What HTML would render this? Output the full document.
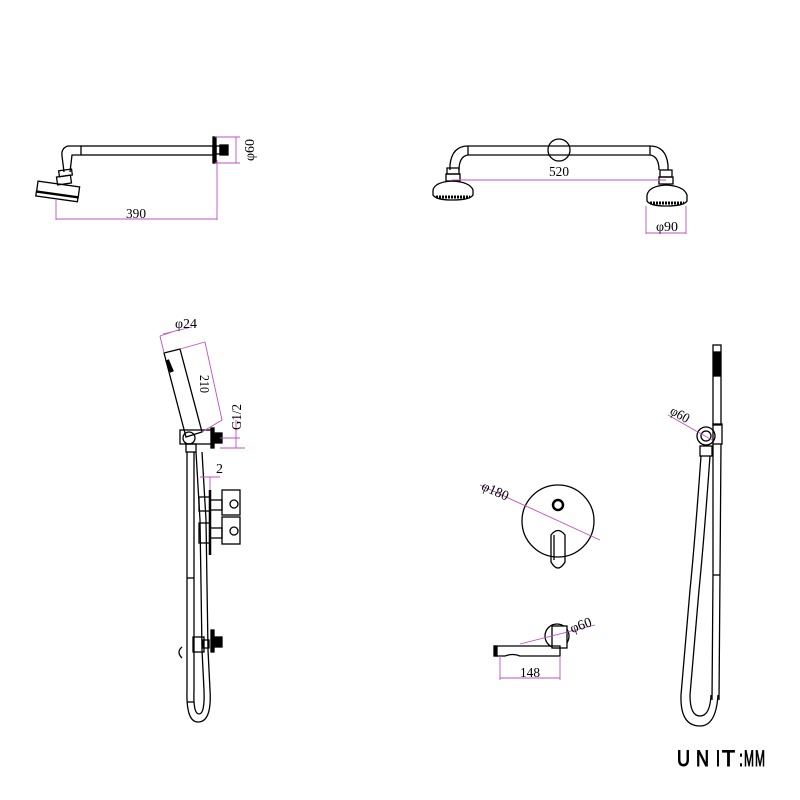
<!DOCTYPE html>
<html><head><meta charset="utf-8"><style>html,body{margin:0;padding:0;background:#fff}svg{display:block}</style></head>
<body>
<svg width="800" height="800" viewBox="0 0 800 800" xmlns="http://www.w3.org/2000/svg" font-family="Liberation Sans, sans-serif">
<g fill="none" stroke="#000" stroke-width="1.3">
<rect x="81" y="146" width="132" height="9"/>
<path d="M81 146 L68 146 Q61 148 62 156 L64 172 M81 155 L72 155 L70 172"/>
<rect x="59" y="170" width="13" height="6" transform="rotate(-8 65 173)"/>
<rect x="57" y="176" width="14" height="8" transform="rotate(-8 64 180)"/>
<rect x="37" y="184" width="42" height="11" transform="rotate(8 58 190)"/>
<rect x="36" y="194" width="42" height="5" transform="rotate(8 58 196)"/>
<rect x="213" y="137" width="3" height="26" fill="#000"/>
<rect x="216" y="146" width="4" height="8"/>
<rect x="220" y="145" width="8" height="10" fill="#000"/>
<path d="M468 146 L650 146 M468 155 L650 155"/>
<path d="M468 146 Q452 146 450 165 L450 170 M468 155 Q460 156 459 168 L459 170"/>
<path d="M650 146 Q666 146 668 165 L668 170 M650 155 Q658 156 659 168 L659 170"/>
<line x1="468" y1="146" x2="468" y2="155"/><line x1="650" y1="146" x2="650" y2="155"/>
<circle cx="559" cy="150" r="11" fill="#fff"/>
<line x1="548" y1="146" x2="570" y2="146"/><line x1="548" y1="155" x2="570" y2="155"/>
<rect x="447" y="168" width="12" height="6"/><rect x="446" y="174" width="14" height="7"/>
<path d="M433 190 Q435 182 452 181 Q470 182 473 190 L473 195 Q470 200 452 200 Q436 200 433 195 Z"/>
<line x1="436" y1="197" x2="470" y2="197" stroke-width="3" stroke-dasharray="2 1"/>
<rect x="660" y="170" width="12" height="7"/><rect x="659" y="177" width="14" height="7"/>
<path d="M647 195 Q649 186 666 185 Q684 186 687 195 L687 201 Q684 206 666 206 Q650 206 647 201 Z"/>
<line x1="650" y1="203" x2="684" y2="203" stroke-width="3" stroke-dasharray="2 1"/>
<path d="M164 353 L180 349 L202 432 L186 437 Z"/>
<path d="M167 360 L172 372" stroke-width="4"/>
<rect x="180" y="430" width="32" height="14"/>
<circle cx="189" cy="438" r="6"/>
<rect x="211" y="428" width="3" height="20" fill="#000"/>
<rect x="214" y="433" width="8" height="10" fill="#000"/>
<rect x="186" y="444" width="10" height="8"/>
<path d="M187 452 L187 690 M194 452 L194 690"/>
<path d="M196 452 L200 520 L202 650 L204 690 M202 452 L206 520 L208 650 L210 690"/>
<path d="M187 690 Q186 722 198 722 Q212 722 210 690 M194 690 Q193 714 199 714 Q205 714 204 690"/>
<line x1="187" y1="578" x2="194" y2="578"/>
<line x1="187" y1="702" x2="194" y2="702"/>
<rect x="193" y="637" width="11" height="15"/>
<path d="M182 647 Q176 652 182 658"/>
<rect x="203" y="640" width="6" height="8"/>
<rect x="211" y="630" width="3" height="22" fill="#000"/>
<rect x="214" y="637" width="8" height="10" fill="#000"/>
<line x1="210" y1="490" x2="210" y2="555" stroke-width="2.5"/>
<rect x="199" y="497" width="11" height="14"/>
<rect x="210" y="500" width="12" height="10"/>
<rect x="222" y="490" width="18" height="25"/>
<circle cx="234" cy="504" r="4"/>
<rect x="199" y="523" width="11" height="20"/>
<rect x="210" y="528" width="12" height="10"/>
<rect x="222" y="517" width="18" height="27"/>
<circle cx="234" cy="531" r="4"/>
<circle cx="558" cy="521" r="36"/>
<circle cx="558" cy="505" r="5" stroke-width="2.5"/>
<path d="M551 535 Q558 526 565 535 L565 562 Q558 574 551 562 Z"/>
<line x1="554" y1="535" x2="554" y2="560"/>
<circle cx="557" cy="636" r="12"/>
<rect x="552" y="626" width="15" height="22" fill="#fff"/>
<path d="M495 646 L560 646 L560 656 L520 656 Q513 653 505 656 L495 656 Z"/>
<rect x="494" y="646" width="3" height="10" fill="#000"/>
<rect x="713" y="345" width="8" height="80"/>
<rect x="714" y="352" width="6" height="24" fill="#000"/>
<circle cx="706" cy="436" r="9"/>
<circle cx="706" cy="436" r="5"/>
<rect x="713" y="424" width="9" height="20"/>
<path d="M713 444 L713 575 L712 700 M721 444 L720 575 L719 700"/>
<line x1="713" y1="575" x2="720" y2="575"/>
<rect x="700" y="446" width="12" height="10"/>
<path d="M701 456 Q695 540 690 590 L681 695 Q680 726 700 726 Q716 726 718 695 M710 456 Q704 540 699 590 L690 695 Q690 716 700 716 Q710 716 711 695"/>
</g>
<g fill="none" stroke="#c050c0" stroke-width="0.9">
<path d="M56 200 L56 220 M217 160 L217 220 M56 219 L217 219"/>
<path d="M215 137 L240 137 M215 163 L240 163 M236 137 L236 163"/>
<path d="M452 180 L666 180"/>
<path d="M646 206 L646 234 M686 206 L686 234 M646 233 L686 233"/>
<path d="M160 336 L164 353 M178 330 L160 336 M163 334 L192 327"/>
<path d="M180 349 L205 342 L222 420 L202 432"/>
<path d="M220 438 L240 438 M220 448 L245 448 M236 420 L236 448"/>
<path d="M200 477 L220 477 M210 477 L210 490"/>
<path d="M480 485 L600 540"/>
<path d="M520 644 L595 625"/>
<path d="M500 656 L500 680 M560 656 L560 680 M500 678 L560 678"/>
<path d="M668 415 L712 440"/>
</g>
<g fill="#000" font-size="14" font-family="Liberation Serif, serif">
<text x="126" y="218" textLength="20" lengthAdjust="spacingAndGlyphs">390</text>
<text x="238" y="155" transform="rotate(-90 249 150)" textLength="22" lengthAdjust="spacingAndGlyphs">φ60</text>
<text x="549" y="176" textLength="20" lengthAdjust="spacingAndGlyphs">520</text>
<text x="656" y="231" textLength="22" lengthAdjust="spacingAndGlyphs">φ90</text>
<text x="175" y="328" textLength="22" lengthAdjust="spacingAndGlyphs">φ24</text>
<text x="196" y="389" transform="rotate(90 205 384)" textLength="18" lengthAdjust="spacingAndGlyphs">210</text>
<text x="224" y="423" transform="rotate(-90 236 418)" textLength="26" lengthAdjust="spacingAndGlyphs">G1/2</text>
<text x="216" y="473">2</text>
<text x="482" y="493" transform="rotate(24 490 488)" textLength="28" lengthAdjust="spacingAndGlyphs">φ180</text>
<text x="570" y="630" transform="rotate(-20 580 626)" textLength="22" lengthAdjust="spacingAndGlyphs">φ60</text>
<text x="520" y="677" textLength="20" lengthAdjust="spacingAndGlyphs">148</text>
<text x="670" y="418" transform="rotate(30 678 414)" textLength="20" lengthAdjust="spacingAndGlyphs">φ60</text>
</g>
<g fill="#000" stroke="#000" stroke-width="0.9" font-size="22" font-family="Liberation Sans, sans-serif">
<text x="677" y="766" textLength="13" lengthAdjust="spacingAndGlyphs">U</text>
<text x="696" y="766" textLength="13" lengthAdjust="spacingAndGlyphs">N</text>
<text x="716" y="766" textLength="4" lengthAdjust="spacingAndGlyphs">I</text>
<text x="722" y="766" textLength="13" lengthAdjust="spacingAndGlyphs">T</text>
<text x="739" y="766" textLength="4" lengthAdjust="spacingAndGlyphs">:</text>
<text x="744" y="766" textLength="10" lengthAdjust="spacingAndGlyphs">M</text>
<text x="755" y="766" textLength="10" lengthAdjust="spacingAndGlyphs">M</text>
</g>
</svg>
</body></html>
